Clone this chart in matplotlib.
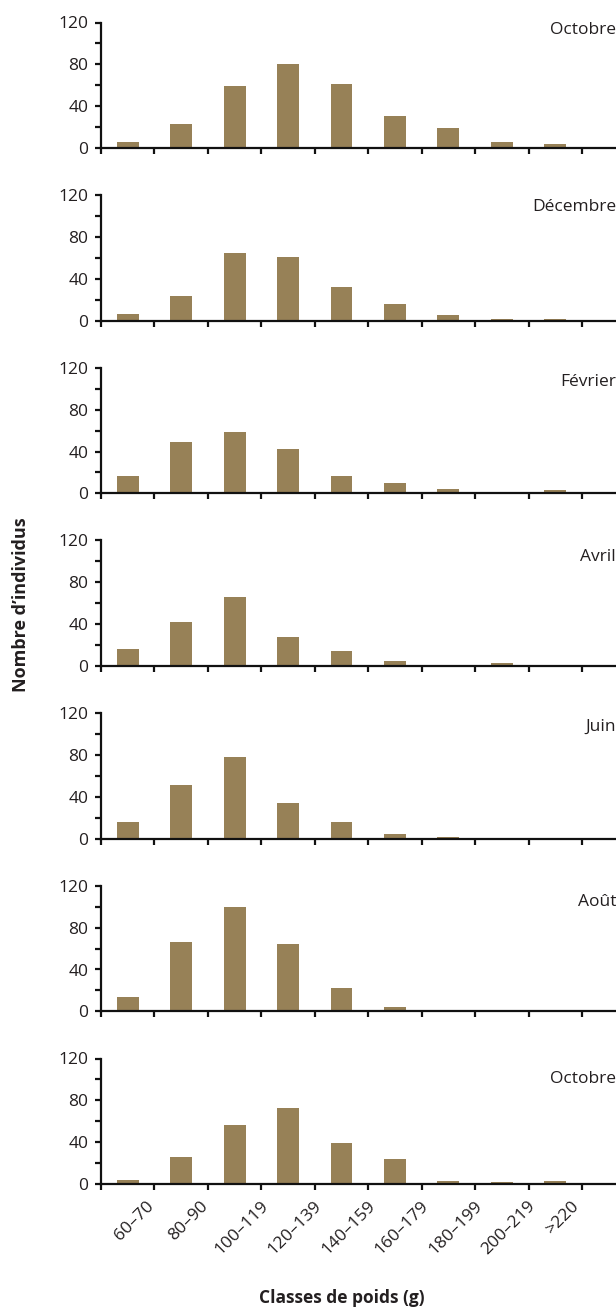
import matplotlib
matplotlib.use("Agg")
import matplotlib.pyplot as plt
import matplotlib.transforms as mtransforms
import numpy as np

plt.rcParams['font.family'] = ['Open Sans', 'DejaVu Sans']

categories = ['60–70', '80–90', '100–119', '120–139', '140–159',
              '160–179', '180–199', '200–219', '>220']
months = ['Octobre', 'Décembre', 'Février', 'Avril', 'Juin', 'Août', 'Octobre']
octobre_1 = [6, 23, 59, 80, 61, 31, 19, 6, 4]
decembre = [6, 24, 65, 61, 32, 16, 5, 2, 2]
fevrier = [17, 49, 59, 42, 17, 10, 4, 0, 3]
avril = [16, 42, 66, 28, 14, 5, 0, 3, 0]
juin = [16, 51, 78, 34, 16, 4, 2, 1, 0]
aout = [14, 66, 100, 64, 22, 4, 1.5, 0, 1.5]
octobre_2 = [4, 26, 56, 73, 39, 24, 3, 2, 3]
series = [octobre_1, decembre, fevrier, avril, juin, aout, octobre_2]

# layout (pixels)
W, H = 616, 1308
DPI = 100
label_y = [113, 109, 106, 104, 107, 105, 100]
bar_color = '#978157'
text_color = '#231f20'

fig = plt.figure(figsize=(W / DPI, H / DPI), dpi=DPI)

left_px = 101
unit_px = (582 - 101) / 9.0
x_right = -0.5 + (W - left_px) / unit_px
zero0, zero_last = 148.0, 1184.0
step = (zero_last - zero0) / 6
ax_h = 125.5

x = np.arange(len(categories))
axes = []
for i, (vals, month) in enumerate(zip(series, months)):
    y0 = zero0 + i * step
    ax = fig.add_axes([left_px / W, 1 - y0 / H, (W - left_px) / W, ax_h / H])
    ax.bar(x, vals, width=0.41, color=bar_color, zorder=2)
    ax.set_xlim(-0.5, x_right)
    ax.set_ylim(0, 120)
    for s in ['top', 'right']:
        ax.spines[s].set_visible(False)
    for s in ['left', 'bottom']:
        ax.spines[s].set_linewidth(1.6)
        ax.spines[s].set_color('#111111')
        ax.spines[s].set_zorder(3)
    ax.set_yticks([0, 40, 80, 120])
    ax.set_yticks([20, 60, 100], minor=True)
    ax.set_xticks(np.arange(-0.5, len(categories), 1.0))
    ax.set_xticklabels([])
    ax.tick_params(axis='both', which='both', direction='out', length=4.5,
                   width=1.6, color='#111111')
    ax.tick_params(axis='y', which='major', labelsize=12.5, pad=4.5,
                   labelcolor=text_color)
    ax.text(1.0, label_y[i], month,
            transform=mtransforms.blended_transform_factory(ax.transAxes, ax.transData),
            ha='right', va='center', fontsize=12.5, color=text_color)
    axes.append(ax)

# category labels on the bottom panel
ax = axes[-1]
off = mtransforms.ScaledTranslation(7 / DPI, -14 / DPI, fig.dpi_scale_trans)
for xi, cat in zip(x, categories):
    ax.text(xi, 0, cat, transform=ax.get_xaxis_transform() + off,
            rotation=45, ha='center', va='top', fontsize=12.5, color=text_color)

# axis titles
bt = mtransforms.blended_transform_factory(ax.transData, fig.transFigure)
ax.text(4, 1 - 1298 / H, 'Classes de poids (g)', transform=bt, ha='center',
        va='center', fontsize=12.5, fontweight='bold', color=text_color)
fig.text(21 / W, 1 - 605 / H, 'Nombre d’individus', rotation=90, ha='center',
         va='center', fontsize=13, fontweight='bold', color=text_color)

fig.savefig('out.png', dpi=DPI)
